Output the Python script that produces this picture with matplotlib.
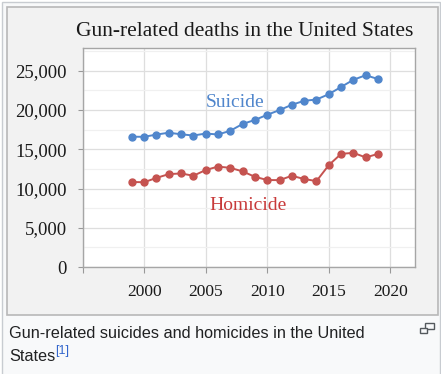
import matplotlib
matplotlib.use("Agg")
import matplotlib.pyplot as plt
from matplotlib.patches import Rectangle
from matplotlib.ticker import MultipleLocator, FuncFormatter

# data (CDC firearm deaths)
years = [1999, 2000, 2001, 2002, 2003, 2004, 2005, 2006, 2007, 2008, 2009,
         2010, 2011, 2012, 2013, 2014, 2015, 2016, 2017, 2018, 2019]
suicide = [16599, 16586, 16869, 17108, 16907, 16750, 17002, 16883, 17352, 18223, 18735,
           19392, 19990, 20666, 21175, 21334, 22018, 22938, 23854, 24432, 23941]
homicide = [10828, 10801, 11348, 11829, 11920, 11624, 12352, 12791, 12632, 12179, 11493,
            11078, 11068, 11622, 11208, 10945, 12979, 14415, 14542, 13958, 14414]
xticks = [1995, 2000, 2005, 2010, 2015, 2020]
xticklabels = ["", "2000", "2005", "2010", "2015", "2020"]

W, H = 441, 374
fig = plt.figure(figsize=(W / 100, H / 100), dpi=100)
fig.patch.set_facecolor("white")

# page frame (thumbnail box + image border), in pixel coords
bg = fig.add_axes([0, 0, 1, 1])
bg.set_xlim(0, W)
bg.set_ylim(H, 0)
bg.axis("off")
bg.add_patch(Rectangle((1.5, 1.5), 438, 380, facecolor="#f8f9fa", edgecolor="#c8ccd1", lw=1))
bg.add_patch(Rectangle((6.5, 6.5), 431.5, 308, facecolor="#f2f2f2", edgecolor="#b8b8b8", lw=1.2))

serif = "Liberation Serif"
blue = "#5086cc"
red = "#c55350"

ax = fig.add_axes([82.5 / W, (H - 267) / H, (415 - 82.5) / W, (267 - 48) / H])
ax.set_facecolor("white")
ax.plot(years, suicide, color=blue, lw=1.4, marker="o", ms=5, zorder=3)
ax.plot(years, homicide, color=red, lw=1.4, marker="o", ms=5, zorder=3)

ax.set_xlim(1995, 2022)
ax.set_ylim(0, 27900)
ax.set_xticks(xticks)
ax.set_xticklabels(xticklabels)
ax.yaxis.set_major_locator(MultipleLocator(5000))
ax.yaxis.set_minor_locator(MultipleLocator(2500))
ax.yaxis.set_major_formatter(FuncFormatter(lambda v, p: f"{int(v):,}"))
ax.grid(True, which="major", color="#dedede", lw=0.9)
ax.grid(True, which="minor", axis="y", color="#f0f0f0", lw=0.9)
ax.set_axisbelow(True)
ax.tick_params(which="minor", length=0)
ax.tick_params(axis="y", length=3.5, pad=8, color="#999999", labelsize=13.5, labelcolor="#1a1a1a")
ax.tick_params(axis="x", length=4, pad=8, color="#999999", labelsize=12.5, labelcolor="#1a1a1a")
for lab in ax.get_xticklabels() + ax.get_yticklabels():
    lab.set_fontfamily(serif)
for s in ax.spines.values():
    s.set_color("#a6a6a6")
    s.set_linewidth(1)

ax.text(2007.4, 21000, "Suicide", color=blue, fontsize=14, family=serif, ha="center", va="center")
ax.text(2008.4, 7850, "Homicide", color="#c83a3a", fontsize=14, family=serif, ha="center", va="center")

fig.text(245 / W, 1 - 32 / H, "Gun-related deaths in the United States", fontsize=15.5,
         family=serif, color="#1a1a1a", ha="center", va="center")

# caption
fig.text(9 / W, 1 - 338 / H, "Gun-related suicides and homicides in the United",
         fontsize=11.7, family="Liberation Sans", color="#202122", ha="left", va="baseline")
t = fig.text(9 / W, 1 - 361 / H, "States", fontsize=11.7, family="Liberation Sans",
             color="#202122", ha="left", va="baseline")
bg.annotate("[1]", xy=(1, 0), xycoords=t, xytext=(0, 5), textcoords="offset points",
            fontsize=9, family="Liberation Sans", color="#3366cc", ha="left", va="bottom")

# enlarge icon
bg.add_patch(Rectangle((424.5, 322.5), 9, 6, facecolor="none", edgecolor="#54595d", lw=1))
bg.add_patch(Rectangle((419.5, 327.5), 7, 5.5, facecolor="#f8f9fa", edgecolor="#54595d", lw=1))

fig.savefig("out.png", dpi=100)
